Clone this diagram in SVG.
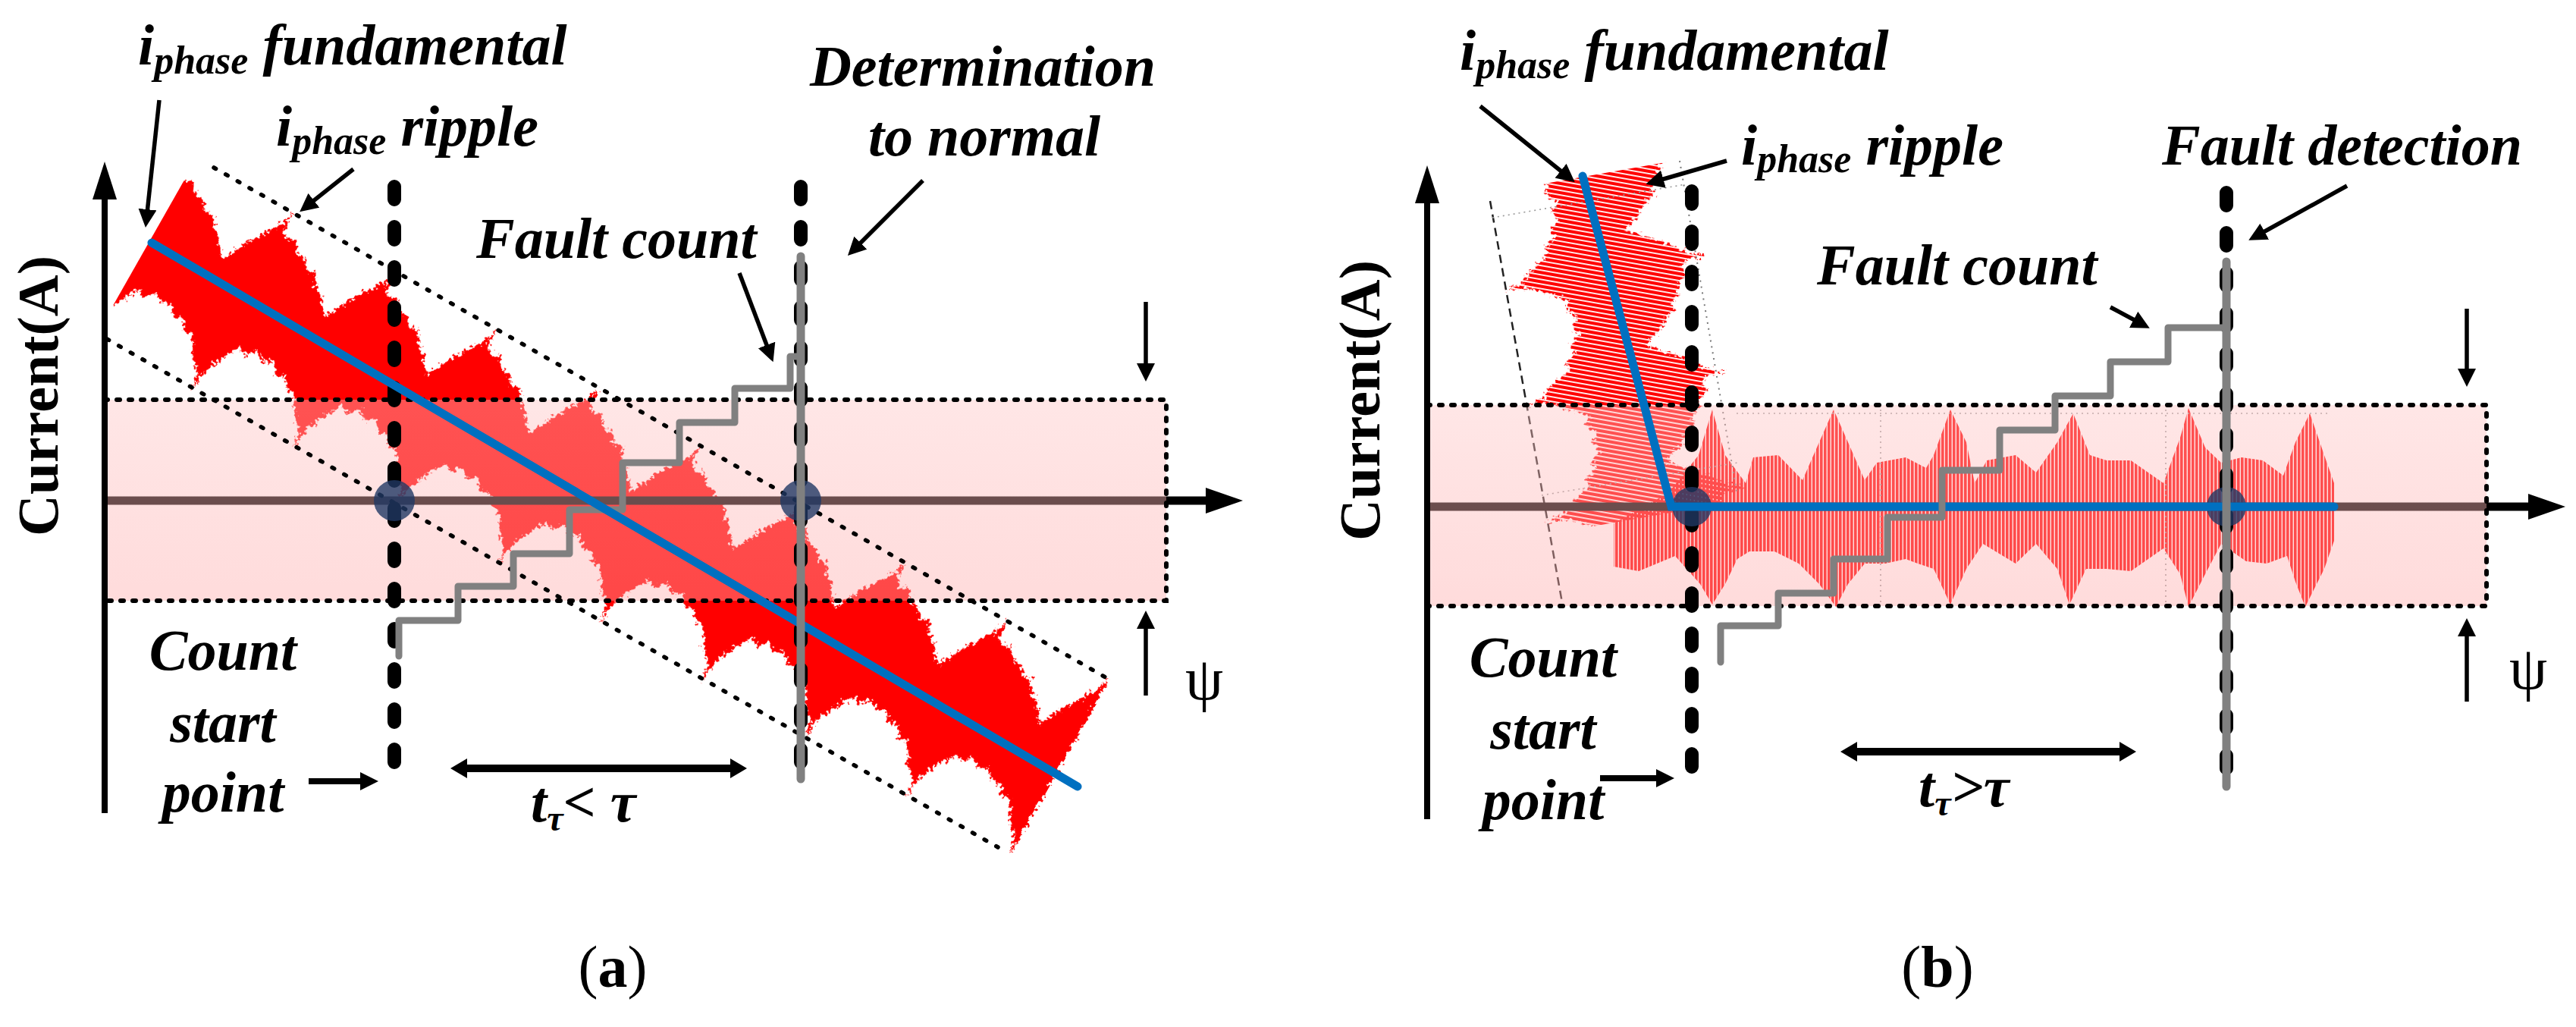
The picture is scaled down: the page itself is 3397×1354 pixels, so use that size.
<svg xmlns="http://www.w3.org/2000/svg" width="3397" height="1354" viewBox="0 0 3397 1354">
<defs>
<style>
.lbl{font-family:"Liberation Serif","Times New Roman",serif;font-style:italic;font-weight:bold;font-size:76px;fill:#000}
.ax{font-family:"Liberation Serif","Times New Roman",serif;font-weight:bold;font-size:76px;fill:#000}
.cap{font-family:"Liberation Serif","Times New Roman",serif;font-size:78px;fill:#000}
.psi{font-family:"Liberation Serif","Times New Roman",serif;font-size:80px;fill:#000}
.arr{stroke:#000;stroke-width:5.5;fill:none;marker-end:url(#ah)}
.thick{stroke:#000;stroke-width:8;fill:none;marker-end:url(#ah)}
.dbl{stroke:#000;stroke-width:10;fill:none;marker-start:url(#ah2);marker-end:url(#ah2)}
.axis{stroke:#000;stroke-width:8;fill:none}
.haxis{stroke:#000;stroke-width:11;fill:none}
.band{fill:url(#pinkGrad)}
.border{fill:none;stroke:#000;stroke-width:6;stroke-dasharray:4 12;stroke-linecap:round}
.diag{fill:none;stroke:#000;stroke-width:5.5;stroke-dasharray:3 15;stroke-linecap:round}
.vdash{fill:none;stroke:#000;stroke-width:18;stroke-dasharray:17 36;stroke-linecap:round}
.gray{fill:none;stroke:#808080;stroke-width:11;stroke-linecap:round}
.step{fill:none;stroke:#808080;stroke-width:9;stroke-linejoin:round;stroke-linecap:round}
.blue{fill:none;stroke:#0070c0;stroke-width:11;stroke-linecap:round;stroke-linejoin:miter}
.dot{fill:#203864;fill-opacity:0.8}
.faint{fill:none;stroke:#9a9a9a;stroke-width:1.6;stroke-dasharray:2 5}
</style>
<linearGradient id="pinkGrad" x1="0" y1="0" x2="0" y2="1">
<stop offset="0" stop-color="#ffc4c4" stop-opacity="0.42"/>
<stop offset="1" stop-color="#ffaaaa" stop-opacity="0.42"/>
</linearGradient>
<marker id="ah" markerUnits="userSpaceOnUse" viewBox="0 0 24 24" markerWidth="24" markerHeight="24" refX="14" refY="12" orient="auto"><path d="M0,0 L24,12 L0,24 Z" fill="#000"/></marker>
<marker id="ah2" markerUnits="userSpaceOnUse" viewBox="0 0 22 26" markerWidth="22" markerHeight="26" refX="10" refY="13" orient="auto-start-reverse"><path d="M0,0 L22,13 L0,26 Z" fill="#000"/></marker>
<path id="burst" d="M0,-135 L4,-106 L14,-100 L22,-106 L32,-92 L46,-90 L56,-78 L66,-82 L76,-66 L88,-58 L98,-44 L106,-36 L114,-52 L124,-72 L134,-88 L142,-100 L150,-112 L157,-135 L157,135 L152,112 L144,104 L136,96 L128,82 L120,70 L110,72 L100,58 L88,62 L76,48 L64,56 L52,46 L40,60 L30,54 L20,70 L10,90 L4,104 L0,135 Z"/>
<filter id="rough" x="-10%" y="-30%" width="120%" height="160%">
<feTurbulence type="fractalNoise" baseFrequency="0.22" numOctaves="2" seed="3" result="n"/>
<feDisplacementMap in="SourceGraphic" in2="n" scale="16" xChannelSelector="R" yChannelSelector="G"/>
</filter>
<clipPath id="clipA"><rect x="62" y="-220" width="1400" height="440"/></clipPath>
<clipPath id="clipB"><rect x="-128" y="-220" width="456" height="440"/></clipPath>
<pattern id="hatch" patternUnits="userSpaceOnUse" width="6" height="6" patternTransform="rotate(-70)">
<rect width="6" height="6" fill="#ff0000"/><rect width="6" height="1.8" fill="#ffffff"/>
</pattern>
<pattern id="vlines" patternUnits="userSpaceOnUse" width="5" height="10">
<rect width="3.6" height="10" fill="#ff0000"/>
</pattern>
<mask id="maskB" maskUnits="userSpaceOnUse" x="-220" y="-260" width="720" height="520">
<g clip-path="url(#clipB)"><g filter="url(#rough)" fill="#ffffff">
<use href="#burst" x="-155"/><use href="#burst" x="0"/><use href="#burst" x="155"/><use href="#burst" x="310"/>
</g></g>
</mask>
</defs>
<rect width="3397" height="1354" fill="#fff"/>

<!-- ================= PANEL (a) ================= -->
<g id="panel-a">
<g id="a-waveform">
<g transform="translate(139,295) rotate(29.6)">
<g clip-path="url(#clipA)"><g filter="url(#rough)" fill="#ff0000">
<use href="#burst" x="51"/><use href="#burst" x="206"/><use href="#burst" x="361"/><use href="#burst" x="516"/><use href="#burst" x="671"/><use href="#burst" x="826"/><use href="#burst" x="981"/><use href="#burst" x="1136"/><use href="#burst" x="1291"/>
</g></g>
</g>
</g>
<g id="a-x-axis">
<path class="haxis" d="M138,660 H1600"/>
<polygon points="1639,660 1590,643 1590,677" fill="#000"/>
</g>
<g id="a-band">
<rect class="band" x="138" y="527" width="1400" height="265"/>
<path class="border" d="M138,527 H1538 V792 H138"/>
</g>
<g id="a-ripple-bounds">
<path class="diag" d="M282,221 L1465,897"/>
<path class="diag" d="M141,447 L1316,1117"/>
</g>
<g id="a-y-axis">
<path class="axis" d="M138,1072 V255"/>
<polygon points="138,213 122,263 154,263" fill="#000"/>
<text class="ax" transform="translate(76,522) rotate(-90)" text-anchor="middle">Current(A)</text>
</g>
<g id="a-count-start-line"><path class="vdash" d="M520,246 V1016"/></g>
<g id="a-determination-line"><path class="vdash" d="M1056,246 V1020"/></g>
<g id="a-fault-count-steps">
<path class="step" d="M526,865 V818 H604 V773 H677 V730 H751 V672 H821 V610 H896 V557 H969 V512 H1042 V470 H1056"/>
</g>
<g id="a-crossings">
<circle class="dot" cx="520" cy="660" r="27"/>
<circle class="dot" cx="1056" cy="660" r="27"/>
</g>
<g id="a-fundamental"><path class="blue" d="M200,320 L1421,1037"/></g>
<g id="a-count-overlay"><path class="gray" d="M1056,338 V1027"/></g>
<g id="a-label-fundamental"><text class="lbl" x="182" y="85">i<tspan font-size="52" dy="12">phase</tspan><tspan dy="-12"> fundamental</tspan></text></g>
<g id="a-label-ripple"><text class="lbl" x="364" y="192">i<tspan font-size="52" dy="11">phase</tspan><tspan dy="-11"> ripple</tspan></text></g>
<g id="a-label-fault-count"><text class="lbl" x="628" y="340">Fault count</text></g>
<g id="a-label-determination"><text class="lbl" x="1296" y="113" text-anchor="middle">Determination</text><text class="lbl" x="1298" y="205" text-anchor="middle">to normal</text></g>
<g id="a-label-count-start"><text class="lbl" x="294" y="883" text-anchor="middle">Count</text><text class="lbl" x="294" y="978" text-anchor="middle">start</text><text class="lbl" x="294" y="1070" text-anchor="middle">point</text></g>
<g id="a-label-time"><text class="lbl" x="700" y="1083">t<tspan font-size="48" dy="12">τ</tspan><tspan dy="-12">&lt; τ</tspan></text></g>
<g id="a-label-psi"><text class="psi" x="1563" y="922">ψ</text></g>
<g id="a-caption"><text class="cap" x="808" y="1301" text-anchor="middle">(<tspan font-weight="bold">a</tspan>)</text></g>
</g>

<!-- ================= PANEL (b) ================= -->
<g id="panel-b">
<g id="b-waveform">
<g transform="translate(2117,358) rotate(80)">
<rect x="-220" y="-260" width="720" height="520" fill="url(#hatch)" mask="url(#maskB)"/>
</g>
<polygon fill="url(#vlines)" points="2128,690 2200,650 2240,600 2258,540 2275,600 2302,637 2312,603 2345,600 2377,633 2399,583 2418,540 2437,583 2459,633 2475,610 2513,603 2540,617 2550,600 2572,540 2593,583 2604,637 2620,607 2658,600 2685,623 2713,583 2734,545 2756,600 2778,607 2810,607 2853,637 2875,577 2886,538 2908,590 2929,610 2956,603 2984,607 3011,627 3027,583 3046,545 3065,600 3078,637 3078,713 3065,750 3040,800 3027,767 3016,733 2989,743 2962,740 2929,717 2908,757 2886,800 2875,757 2853,723 2810,753 2778,750 2751,750 2729,797 2713,750 2685,717 2658,743 2615,717 2593,750 2572,797 2550,750 2529,743 2513,737 2486,743 2459,743 2437,770 2421,800 2399,770 2372,743 2340,727 2307,727 2291,737 2275,770 2258,797 2242,770 2209,733 2161,753 2128,747"/>
</g>
<g id="b-guides">
<path d="M1965,265 L2061,800" stroke="#222" stroke-width="2.5" stroke-dasharray="11 7" fill="none"/>
<path d="M2215,212 L2291,653" stroke="#777" stroke-width="2" stroke-dasharray="2 6" fill="none"/>
<path class="faint" d="M1968,287 L2223,243 M2033,653 L2291,610 M2480,540 V795 M2856,540 V795 M2290,545 H3070"/>
</g>
<g id="b-x-axis">
<path class="haxis" d="M1882,668 H3344"/>
<polygon points="3383,668 3334,651 3334,685" fill="#000"/>
</g>
<g id="b-band">
<rect class="band" x="1882" y="534" width="1397" height="265"/>
<path class="border" d="M1882,534 H3279 V799 H1882"/>
</g>
<g id="b-y-axis">
<path class="axis" d="M1882,1080 V260"/>
<polygon points="1882,218 1866,268 1898,268" fill="#000"/>
<text class="ax" transform="translate(1819,528) rotate(-90)" text-anchor="middle">Current(A)</text>
</g>
<g id="b-count-start-line"><path class="vdash" d="M2231,252 V1023"/></g>
<g id="b-detection-line"><path class="vdash" d="M2936,254 V1028"/></g>
<g id="b-crossings">
<circle class="dot" cx="2231" cy="668" r="26"/>
<circle class="dot" cx="2936" cy="668" r="26"/>
</g>
<g id="b-fundamental"><path class="blue" d="M2087,232 L2204,668 L3078,668"/></g>
<g id="b-fault-count-steps">
<path class="step" d="M2269,873 V825 H2345 V782 H2418 V737 H2489 V682 H2561 V620 H2637 V567 H2710 V522 H2783 V477 H2859 V432 H2936"/>
<path class="gray" d="M2936,345 V1037"/>
</g>
<g id="b-label-fundamental"><text class="lbl" x="1925" y="92">i<tspan font-size="52" dy="11">phase</tspan><tspan dy="-11"> fundamental</tspan></text></g>
<g id="b-label-ripple"><text class="lbl" x="2296" y="217">i<tspan font-size="52" dy="10">phase</tspan><tspan dy="-10"> ripple</tspan></text></g>
<g id="b-label-fault-count"><text class="lbl" x="2396" y="375">Fault count</text></g>
<g id="b-label-detection"><text class="lbl" x="2851" y="217">Fault detection</text></g>
<g id="b-label-count-start"><text class="lbl" x="2035" y="892" text-anchor="middle">Count</text><text class="lbl" x="2035" y="987" text-anchor="middle">start</text><text class="lbl" x="2035" y="1080" text-anchor="middle">point</text></g>
<g id="b-label-time"><text class="lbl" x="2530" y="1063">t<tspan font-size="48" dy="12">τ</tspan><tspan dy="-12">&gt;τ</tspan></text></g>
<g id="b-label-psi"><text class="psi" x="3309" y="908">ψ</text></g>
<g id="b-caption"><text class="cap" x="2555" y="1301" text-anchor="middle">(<tspan font-weight="bold">b</tspan>)</text></g>
</g>

<!-- ================= CONNECTORS ================= -->
<g id="connectors">
<path class="arr" d="M210,132 L193,290"/>
<path class="arr" d="M466,223 L403,273"/>
<path class="arr" d="M975,360 L1016,468"/>
<path class="arr" d="M1217,238 L1125,330"/>
<path class="arr" d="M1511,398 V493"/>
<path class="arr" d="M1511,917 V815"/>
<path class="thick" d="M407,1030 H489"/>
<path class="dbl" d="M606,1013 H973"/>
<path class="arr" d="M1952,140 L2069,234"/>
<path class="arr" d="M2277,212 L2180,240"/>
<path class="arr" d="M2783,405 L2826,428"/>
<path class="arr" d="M3095,245 L2974,312"/>
<path class="arr" d="M3253,407 V500"/>
<path class="arr" d="M3253,925 V825"/>
<path class="thick" d="M2110,1026 H2198"/>
<path class="dbl" d="M2439,991 H2805"/>
</g>
</svg>
